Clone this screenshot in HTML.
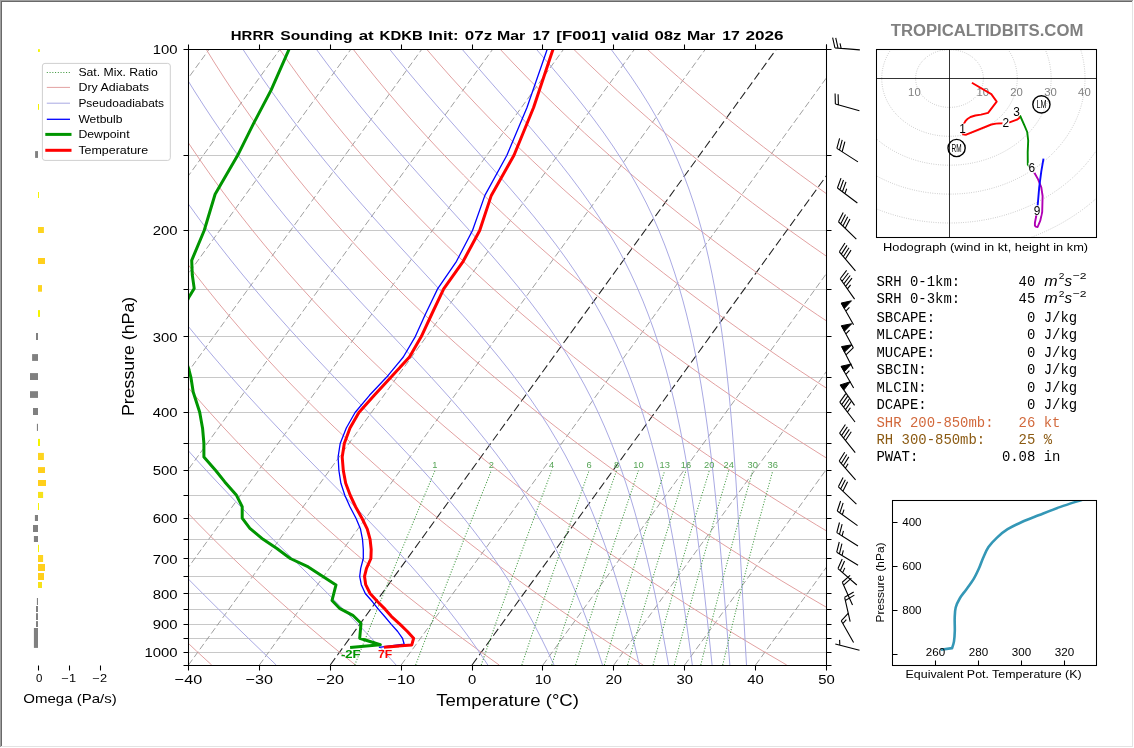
<!DOCTYPE html>
<html><head><meta charset="utf-8"><title>HRRR Sounding</title><style>html,body{margin:0;padding:0;background:#fff;}svg{display:block;}</style></head><body>
<svg width="1134" height="748" viewBox="0 0 1134 748" font-family="Liberation Sans, sans-serif">
<filter id="ga" filterUnits="userSpaceOnUse" x="0" y="0" width="1134" height="748" color-interpolation-filters="sRGB"><feOffset dx="0" dy="0"/></filter>
<rect width="1134" height="748" fill="#fff"/>
<g filter="url(#ga)">
<defs><clipPath id="cs"><rect x="188.5" y="49.5" width="638" height="616"/></clipPath>
<clipPath id="ch"><rect x="876.5" y="49.5" width="220" height="188"/></clipPath>
<clipPath id="ct"><rect x="892.5" y="500.5" width="204" height="165"/></clipPath></defs>
<g clip-path="url(#cs)" fill="none">
<path d="M188.5 49.5 H826.5" stroke="#c8c8c8" stroke-width="1"/>
<path d="M188.5 155.5 H826.5" stroke="#c8c8c8" stroke-width="1"/>
<path d="M188.5 230.5 H826.5" stroke="#c8c8c8" stroke-width="1"/>
<path d="M188.5 289.5 H826.5" stroke="#c8c8c8" stroke-width="1"/>
<path d="M188.5 336.5 H826.5" stroke="#c8c8c8" stroke-width="1"/>
<path d="M188.5 377.5 H826.5" stroke="#c8c8c8" stroke-width="1"/>
<path d="M188.5 412.5 H826.5" stroke="#c8c8c8" stroke-width="1"/>
<path d="M188.5 443.5 H826.5" stroke="#c8c8c8" stroke-width="1"/>
<path d="M188.5 470.5 H826.5" stroke="#c8c8c8" stroke-width="1"/>
<path d="M188.5 495.5 H826.5" stroke="#c8c8c8" stroke-width="1"/>
<path d="M188.5 518.5 H826.5" stroke="#c8c8c8" stroke-width="1"/>
<path d="M188.5 539.5 H826.5" stroke="#c8c8c8" stroke-width="1"/>
<path d="M188.5 558.5 H826.5" stroke="#c8c8c8" stroke-width="1"/>
<path d="M188.5 576.5 H826.5" stroke="#c8c8c8" stroke-width="1"/>
<path d="M188.5 593.5 H826.5" stroke="#c8c8c8" stroke-width="1"/>
<path d="M188.5 609.5 H826.5" stroke="#c8c8c8" stroke-width="1"/>
<path d="M188.5 624.5 H826.5" stroke="#c8c8c8" stroke-width="1"/>
<path d="M188.5 638.5 H826.5" stroke="#c8c8c8" stroke-width="1"/>
<path d="M188.5 652.5 H826.5" stroke="#c8c8c8" stroke-width="1"/>
<path d="M-662.17 665 L-216 49" stroke="#878787" stroke-width="0.8" stroke-dasharray="6.7 3"/>
<path d="M-591.28 665 L-145.11 49" stroke="#878787" stroke-width="0.8" stroke-dasharray="6.7 3"/>
<path d="M-520.39 665 L-74.22 49" stroke="#878787" stroke-width="0.8" stroke-dasharray="6.7 3"/>
<path d="M-449.5 665 L-3.33 49" stroke="#878787" stroke-width="0.8" stroke-dasharray="6.7 3"/>
<path d="M-378.61 665 L67.56 49" stroke="#878787" stroke-width="0.8" stroke-dasharray="6.7 3"/>
<path d="M-307.72 665 L138.45 49" stroke="#878787" stroke-width="0.8" stroke-dasharray="6.7 3"/>
<path d="M-236.83 665 L209.34 49" stroke="#878787" stroke-width="0.8" stroke-dasharray="6.7 3"/>
<path d="M-165.94 665 L280.22 49" stroke="#878787" stroke-width="0.8" stroke-dasharray="6.7 3"/>
<path d="M-95.06 665 L351.11 49" stroke="#878787" stroke-width="0.8" stroke-dasharray="6.7 3"/>
<path d="M-24.17 665 L422 49" stroke="#878787" stroke-width="0.8" stroke-dasharray="6.7 3"/>
<path d="M46.72 665 L492.89 49" stroke="#878787" stroke-width="0.8" stroke-dasharray="6.7 3"/>
<path d="M117.61 665 L563.78 49" stroke="#878787" stroke-width="0.8" stroke-dasharray="6.7 3"/>
<path d="M188.5 665 L634.67 49" stroke="#878787" stroke-width="0.8" stroke-dasharray="6.7 3"/>
<path d="M259.39 665 L705.56 49" stroke="#878787" stroke-width="0.8" stroke-dasharray="6.7 3"/>
<path d="M330.28 665 L776.45 49" stroke="#242424" stroke-width="1.08" stroke-dasharray="8.45 3.6"/>
<path d="M401.17 665 L847.34 49" stroke="#878787" stroke-width="0.8" stroke-dasharray="6.7 3"/>
<path d="M472.06 665 L918.22 49" stroke="#242424" stroke-width="1.08" stroke-dasharray="8.45 3.6"/>
<path d="M542.94 665 L989.11 49" stroke="#878787" stroke-width="0.8" stroke-dasharray="6.7 3"/>
<path d="M613.83 665 L1060 49" stroke="#878787" stroke-width="0.8" stroke-dasharray="6.7 3"/>
<path d="M684.72 665 L1130.89 49" stroke="#878787" stroke-width="0.8" stroke-dasharray="6.7 3"/>
<path d="M755.61 665 L1201.78 49" stroke="#878787" stroke-width="0.8" stroke-dasharray="6.7 3"/>
<path d="M826.5 665 L1272.67 49" stroke="#878787" stroke-width="0.8" stroke-dasharray="6.7 3"/>
<path d="M211.68 665 L196.45 651 L181.6 637 L167.14 623 L153.05 609 L139.32 595 L125.96 581 L112.95 567 L100.29 553 L87.98 539 L76 525 L64.36 511 L53.05 497 L42.07 483 L31.4 469 L21.06 455 L11.02 441 L1.28 427 L-8.15 413 L-17.29 399 L-26.13 385 L-34.69 371 L-42.97 357 L-50.96 343 L-58.69 329 L-66.14 315 L-73.32 301 L-80.25 287 L-86.91 273 L-93.32 259 L-99.48 245 L-105.39 231 L-111.06 217 L-116.49 203 L-121.69 189 L-126.65 175 L-131.39 161 L-135.9 147 L-140.18 133 L-144.25 119 L-148.11 105 L-151.75 91 L-155.18 77 L-158.41 63 L-161.44 49 M355.44 665 L338.04 651 L321.05 637 L304.48 623 L288.3 609 L272.53 595 L257.15 581 L242.16 567 L227.54 553 L213.3 539 L199.43 525 L185.92 511 L172.78 497 L159.98 483 L147.53 469 L135.42 455 L123.65 441 L112.21 427 L101.1 413 L90.31 399 L79.83 385 L69.67 371 L59.82 357 L50.27 343 L41.01 329 L32.05 315 L23.38 301 L14.99 287 L6.89 273 L-0.94 259 L-8.5 245 L-15.79 231 L-22.82 217 L-29.58 203 L-36.09 189 L-42.35 175 L-48.36 161 L-54.13 147 L-59.65 133 L-64.94 119 L-70 105 L-74.82 91 L-79.42 77 L-83.79 63 L-87.95 49 M499.21 665 L479.63 651 L460.5 637 L441.81 623 L423.56 609 L405.74 595 L388.34 581 L371.36 567 L354.79 553 L338.63 539 L322.86 525 L307.49 511 L292.5 497 L277.89 483 L263.65 469 L249.79 455 L236.29 441 L223.14 427 L210.35 413 L197.91 399 L185.8 385 L174.04 371 L162.6 357 L151.5 343 L140.71 329 L130.24 315 L120.08 301 L110.23 287 L100.68 273 L91.43 259 L82.48 245 L73.81 231 L65.43 217 L57.33 203 L49.5 189 L41.95 175 L34.66 161 L27.64 147 L20.87 133 L14.37 119 L8.11 105 L2.11 91 L-3.66 77 L-9.18 63 L-14.46 49 M642.97 665 L621.22 651 L599.94 637 L579.15 623 L558.82 609 L538.95 595 L519.54 581 L500.57 567 L482.05 553 L463.95 539 L446.29 525 L429.05 511 L412.22 497 L395.8 483 L379.78 469 L364.15 455 L348.92 441 L334.07 427 L319.6 413 L305.5 399 L291.77 385 L278.4 371 L265.39 357 L252.72 343 L240.41 329 L228.43 315 L216.78 301 L205.47 287 L194.48 273 L183.81 259 L173.46 245 L163.41 231 L153.67 217 L144.24 203 L135.09 189 L126.25 175 L117.68 161 L109.4 147 L101.4 133 L93.68 119 L86.22 105 L79.03 91 L72.11 77 L65.44 63 L59.02 49 M786.74 665 L762.81 651 L739.39 637 L716.48 623 L694.08 609 L672.16 595 L650.73 581 L629.78 567 L609.3 553 L589.28 539 L569.72 525 L550.61 511 L531.94 497 L513.7 483 L495.9 469 L478.52 455 L461.56 441 L445 427 L428.85 413 L413.1 399 L397.74 385 L382.77 371 L368.17 357 L353.95 343 L340.1 329 L326.62 315 L313.49 301 L300.71 287 L288.28 273 L276.19 259 L264.44 245 L253.01 231 L241.92 217 L231.15 203 L220.69 189 L210.54 175 L200.71 161 L191.17 147 L181.93 133 L172.99 119 L164.33 105 L155.96 91 L147.87 77 L140.05 63 L132.51 49 M930.5 665 L904.4 651 L878.84 637 L853.82 623 L829.33 609 L805.37 595 L781.92 581 L758.99 567 L736.55 553 L714.61 539 L693.15 525 L672.17 511 L651.66 497 L631.61 483 L612.03 469 L592.89 455 L574.19 441 L555.93 427 L538.1 413 L520.7 399 L503.71 385 L487.13 371 L470.96 357 L455.18 343 L439.8 329 L424.8 315 L410.19 301 L395.95 287 L382.08 273 L368.57 259 L355.42 245 L342.62 231 L330.17 217 L318.06 203 L306.28 189 L294.84 175 L283.73 161 L272.94 147 L262.46 133 L252.3 119 L242.44 105 L232.89 91 L223.63 77 L214.67 63 L206 49 M1074.27 665 L1045.99 651 L1018.28 637 L991.16 623 L964.59 609 L938.58 595 L913.12 581 L888.19 567 L863.8 553 L839.93 539 L816.58 525 L793.73 511 L771.38 497 L749.52 483 L728.15 469 L707.25 455 L686.83 441 L666.86 427 L647.36 413 L628.3 399 L609.68 385 L591.5 371 L573.75 357 L556.41 343 L539.5 329 L522.99 315 L506.89 301 L491.19 287 L475.87 273 L460.94 259 L446.39 245 L432.22 231 L418.41 217 L404.97 203 L391.88 189 L379.14 175 L366.75 161 L354.7 147 L342.99 133 L331.61 119 L320.55 105 L309.81 91 L299.39 77 L289.29 63 L279.48 49 M1218.04 665 L1187.58 651 L1157.73 637 L1128.49 623 L1099.85 609 L1071.79 595 L1044.31 581 L1017.4 567 L991.05 553 L965.26 539 L940.01 525 L915.29 511 L891.1 497 L867.43 483 L844.27 469 L821.62 455 L799.46 441 L777.79 427 L756.61 413 L735.89 399 L715.65 385 L695.86 371 L676.53 357 L657.64 343 L639.2 329 L621.18 315 L603.59 301 L586.42 287 L569.67 273 L553.32 259 L537.37 245 L521.82 231 L506.66 217 L491.88 203 L477.47 189 L463.44 175 L449.78 161 L436.47 147 L423.52 133 L410.92 119 L398.66 105 L386.74 91 L375.16 77 L363.9 63 L352.97 49 M1361.8 665 L1329.17 651 L1297.18 637 L1265.83 623 L1235.1 609 L1205 595 L1175.51 581 L1146.61 567 L1118.31 553 L1090.58 539 L1063.43 525 L1036.85 511 L1010.82 497 L985.34 483 L960.4 469 L935.99 455 L912.1 441 L888.72 427 L865.86 413 L843.49 399 L821.62 385 L800.23 371 L779.32 357 L758.87 343 L738.89 329 L719.37 315 L700.3 301 L681.66 287 L663.47 273 L645.7 259 L628.35 245 L611.42 231 L594.9 217 L578.79 203 L563.07 189 L547.74 175 L532.8 161 L518.24 147 L504.05 133 L490.23 119 L476.77 105 L463.67 91 L450.92 77 L438.52 63 L426.46 49 M1505.57 665 L1470.76 651 L1436.62 637 L1403.16 623 L1370.36 609 L1338.21 595 L1306.7 581 L1275.82 567 L1245.56 553 L1215.91 539 L1186.86 525 L1158.41 511 L1130.54 497 L1103.25 483 L1076.52 469 L1050.35 455 L1024.73 441 L999.66 427 L975.11 413 L951.09 399 L927.59 385 L904.59 371 L882.1 357 L860.1 343 L838.59 329 L817.56 315 L797 301 L776.9 287 L757.26 273 L738.08 259 L719.33 245 L701.02 231 L683.15 217 L665.7 203 L648.66 189 L632.04 175 L615.82 161 L600 147 L584.58 133 L569.54 119 L554.88 105 L540.6 91 L526.68 77 L513.13 63 L499.94 49 M1649.33 665 L1612.35 651 L1576.07 637 L1540.5 623 L1505.62 609 L1471.42 595 L1437.89 581 L1405.03 567 L1372.81 553 L1341.24 539 L1310.29 525 L1279.97 511 L1250.26 497 L1221.16 483 L1192.65 469 L1164.72 455 L1137.37 441 L1110.59 427 L1084.36 413 L1058.69 399 L1033.56 385 L1008.96 371 L984.89 357 L961.33 343 L938.29 329 L915.75 315 L893.7 301 L872.14 287 L851.06 273 L830.45 259 L810.31 245 L790.63 231 L771.39 217 L752.61 203 L734.26 189 L716.34 175 L698.84 161 L681.77 147 L665.1 133 L648.85 119 L632.99 105 L617.52 91 L602.45 77 L587.75 63 L573.43 49 M1793.1 665 L1753.94 651 L1715.52 637 L1677.84 623 L1640.88 609 L1604.63 595 L1569.09 581 L1534.23 567 L1500.06 553 L1466.56 539 L1433.72 525 L1401.53 511 L1369.98 497 L1339.07 483 L1308.77 469 L1279.09 455 L1250 441 L1221.52 427 L1193.61 413 L1166.29 399 L1139.53 385 L1113.32 371 L1087.67 357 L1062.56 343 L1037.99 329 L1013.94 315 L990.4 301 L967.38 287 L944.86 273 L922.83 259 L901.29 245 L880.23 231 L859.64 217 L839.52 203 L819.85 189 L800.64 175 L781.87 161 L763.53 147 L745.63 133 L728.16 119 L711.1 105 L694.45 91 L678.21 77 L662.37 63 L646.92 49" stroke="#e09c9c" stroke-width="0.95"/>
<path d="M-579.04 665 L-582.3 651 L-585.35 637 L-588.21 623 L-590.87 609 L-593.33 595 L-595.61 581 L-597.7 567 L-599.6 553 L-601.32 539 L-602.86 525 L-604.22 511 L-605.41 497 L-606.43 483 L-607.28 469 L-607.96 455 L-608.48 441 L-608.84 427 L-609.04 413 L-609.08 399 L-608.97 385 L-608.7 371 L-608.29 357 L-607.73 343 L-607.02 329 L-606.17 315 L-605.19 301 L-604.06 287 L-602.79 273 L-601.4 259 L-599.86 245 L-598.2 231 L-596.41 217 L-594.5 203 L-592.46 189 L-590.3 175 L-588.01 161 L-585.61 147 L-583.09 133 L-580.46 119 L-577.71 105 L-574.85 91 L-571.88 77 L-568.8 63 L-565.61 49 M-435.27 665 L-440.71 651 L-445.9 637 L-450.87 623 L-455.61 609 L-460.12 595 L-464.41 581 L-468.49 567 L-472.35 553 L-475.99 539 L-479.43 525 L-482.66 511 L-485.69 497 L-488.52 483 L-491.15 469 L-493.59 455 L-495.84 441 L-497.91 427 L-499.78 413 L-501.48 399 L-503 385 L-504.34 371 L-505.5 357 L-506.5 343 L-507.32 329 L-507.99 315 L-508.48 301 L-508.82 287 L-509 273 L-509.02 259 L-508.89 245 L-508.6 231 L-508.17 217 L-507.59 203 L-506.86 189 L-506 175 L-504.99 161 L-503.84 147 L-502.56 133 L-501.15 119 L-499.6 105 L-497.92 91 L-496.11 77 L-494.18 63 L-492.13 49 M-291.5 665 L-299.12 651 L-306.46 637 L-313.54 623 L-320.35 609 L-326.91 595 L-333.22 581 L-339.28 567 L-345.09 553 L-350.67 539 L-356 525 L-361.1 511 L-365.97 497 L-370.61 483 L-375.03 469 L-379.23 455 L-383.21 441 L-386.98 427 L-390.53 413 L-393.88 399 L-397.03 385 L-399.97 371 L-402.72 357 L-405.27 343 L-407.63 329 L-409.8 315 L-411.78 301 L-413.58 287 L-415.2 273 L-416.64 259 L-417.91 245 L-419 231 L-419.92 217 L-420.68 203 L-421.27 189 L-421.7 175 L-421.97 161 L-422.08 147 L-422.03 133 L-421.84 119 L-421.49 105 L-420.99 91 L-420.35 77 L-419.57 63 L-418.64 49 M-147.74 665 L-157.53 651 L-167.01 637 L-176.2 623 L-185.1 609 L-193.7 595 L-202.03 581 L-210.07 567 L-217.84 553 L-225.34 539 L-232.57 525 L-239.54 511 L-246.25 497 L-252.7 483 L-258.91 469 L-264.86 455 L-270.57 441 L-276.05 427 L-281.28 413 L-286.28 399 L-291.06 385 L-295.61 371 L-299.93 357 L-304.04 343 L-307.93 329 L-311.61 315 L-315.08 301 L-318.34 287 L-321.4 273 L-324.26 259 L-326.93 245 L-329.4 231 L-331.68 217 L-333.77 203 L-335.68 189 L-337.4 175 L-338.94 161 L-340.31 147 L-341.5 133 L-342.53 119 L-343.38 105 L-344.07 91 L-344.59 77 L-344.95 63 L-345.15 49 M-4.06 665 L-16 651 L-27.61 637 L-38.89 623 L-49.86 609 L-60.51 595 L-70.84 581 L-80.87 567 L-90.59 553 L-100.02 539 L-109.14 525 L-117.98 511 L-126.53 497 L-134.79 483 L-142.78 469 L-150.49 455 L-157.94 441 L-165.11 427 L-172.03 413 L-178.69 399 L-185.09 385 L-191.24 371 L-197.15 357 L-202.81 343 L-208.23 329 L-213.42 315 L-218.38 301 L-223.1 287 L-227.61 273 L-231.89 259 L-235.95 245 L-239.8 231 L-243.43 217 L-246.86 203 L-250.08 189 L-253.1 175 L-255.92 161 L-258.54 147 L-260.98 133 L-263.22 119 L-265.27 105 L-267.14 91 L-268.83 77 L-270.33 63 L-271.67 49 M138.74 665 L124.9 651 L111.34 637 L98.09 623 L85.15 609 L72.53 595 L60.23 581 L48.26 567 L36.6 553 L25.27 539 L14.26 525 L3.57 511 L-6.82 497 L-16.89 483 L-26.66 469 L-36.13 455 L-45.3 441 L-54.19 427 L-62.78 413 L-71.09 399 L-79.12 385 L-86.88 371 L-94.36 357 L-101.58 343 L-108.53 329 L-115.23 315 L-121.67 301 L-127.86 287 L-133.81 273 L-139.51 259 L-144.97 245 L-150.19 231 L-155.19 217 L-159.95 203 L-164.49 189 L-168.8 175 L-172.9 161 L-176.78 147 L-180.45 133 L-183.91 119 L-187.16 105 L-190.21 91 L-193.06 77 L-195.72 63 L-198.18 49 M276.18 665 L261.62 651 L247.08 637 L232.64 623 L218.33 609 L204.21 595 L190.31 581 L176.65 567 L163.28 553 L150.19 539 L137.4 525 L124.92 511 L112.76 497 L100.92 483 L89.4 469 L78.19 455 L67.3 441 L56.73 427 L46.46 413 L36.5 399 L26.84 385 L17.49 371 L8.42 357 L-0.35 343 L-8.84 329 L-17.04 315 L-24.97 301 L-32.63 287 L-40.01 273 L-47.13 259 L-53.99 245 L-60.59 231 L-66.94 217 L-73.04 203 L-78.89 189 L-84.5 175 L-89.87 161 L-95.01 147 L-99.92 133 L-104.6 119 L-109.05 105 L-113.28 91 L-117.3 77 L-121.1 63 L-124.69 49 M396.1 665 L383.41 651 L370.31 637 L356.87 623 L343.15 609 L329.21 595 L315.12 581 L300.97 567 L286.82 553 L272.73 539 L258.77 525 L244.97 511 L231.39 497 L218.04 483 L204.96 469 L192.16 455 L179.66 441 L167.46 427 L155.58 413 L144.01 399 L132.75 385 L121.81 371 L111.18 357 L100.86 343 L90.85 329 L81.14 315 L71.73 301 L62.61 287 L53.78 273 L45.24 259 L36.99 245 L29.01 231 L21.31 217 L13.87 203 L6.7 189 L-0.2 175 L-6.85 161 L-13.25 147 L-19.39 133 L-25.29 119 L-30.94 105 L-36.36 91 L-41.54 77 L-46.49 63 L-51.21 49 M487.86 665 L478.52 651 L468.69 637 L458.35 623 L447.5 609 L436.13 595 L424.28 581 L411.96 567 L399.23 553 L386.14 539 L372.76 525 L359.16 511 L345.43 497 L331.63 483 L317.84 469 L304.11 455 L290.52 441 L277.11 427 L263.9 413 L250.95 399 L238.26 385 L225.85 371 L213.74 357 L201.94 343 L190.44 329 L179.26 315 L168.38 301 L157.82 287 L147.56 273 L137.61 259 L127.96 245 L118.61 231 L109.55 217 L100.78 203 L92.3 189 L84.09 175 L76.17 161 L68.52 147 L61.14 133 L54.02 119 L47.17 105 L40.57 91 L34.23 77 L28.13 63 L22.28 49 M554.01 665 L547.5 651 L540.63 637 L533.36 623 L525.67 609 L517.53 595 L508.92 581 L499.8 567 L490.15 553 L479.98 539 L469.27 525 L458.05 511 L446.32 497 L434.14 483 L421.56 469 L408.65 455 L395.47 441 L382.11 427 L368.65 413 L355.16 399 L341.71 385 L328.37 371 L315.19 357 L302.21 343 L289.46 329 L276.97 315 L264.75 301 L252.83 287 L241.2 273 L229.88 259 L218.87 245 L208.16 231 L197.76 217 L187.67 203 L177.88 189 L168.39 175 L159.19 161 L150.28 147 L141.67 133 L133.33 119 L125.28 105 L117.5 91 L109.99 77 L102.75 63 L95.77 49 M602.49 665 L597.88 651 L593.04 637 L587.96 623 L582.59 609 L576.92 595 L570.92 581 L564.56 567 L557.8 553 L550.62 539 L542.98 525 L534.85 511 L526.21 497 L517.03 483 L507.3 469 L497.03 455 L486.21 441 L474.88 427 L463.07 413 L450.84 399 L438.26 385 L425.4 371 L412.34 357 L399.17 343 L385.97 329 L372.8 315 L359.74 301 L346.83 287 L334.12 273 L321.63 259 L309.41 245 L297.46 231 L285.8 217 L274.44 203 L263.38 189 L252.62 175 L242.17 161 L232.02 147 L222.18 133 L212.63 119 L203.38 105 L194.42 91 L185.75 77 L177.36 63 L169.25 49 M639.4 665 L636.05 651 L632.56 637 L628.91 623 L625.1 609 L621.09 595 L616.88 581 L612.43 567 L607.72 553 L602.73 539 L597.42 525 L591.78 511 L585.75 497 L579.32 483 L572.45 469 L565.11 455 L557.26 441 L548.88 427 L539.95 413 L530.46 399 L520.4 385 L509.79 371 L498.66 357 L487.04 343 L475 329 L462.62 315 L449.97 301 L437.14 287 L424.22 273 L411.27 259 L398.39 245 L385.62 231 L373.01 217 L360.62 203 L348.46 189 L336.57 175 L324.95 161 L313.63 147 L302.6 133 L291.87 119 L281.44 105 L271.32 91 L261.49 77 L251.96 63 L242.73 49 M668.56 665 L666.06 651 L663.48 637 L660.81 623 L658.04 609 L655.15 595 L652.13 581 L648.96 567 L645.64 553 L642.13 539 L638.42 525 L634.49 511 L630.31 497 L625.85 483 L621.1 469 L616.02 455 L610.57 441 L604.73 427 L598.45 413 L591.72 399 L584.49 385 L576.72 371 L568.41 357 L559.52 343 L550.06 329 L540.02 315 L529.42 301 L518.3 287 L506.72 273 L494.75 259 L482.46 245 L469.95 231 L457.3 217 L444.59 203 L431.91 189 L419.31 175 L406.87 161 L394.61 147 L382.58 133 L370.8 119 L359.29 105 L348.07 91 L337.14 77 L326.5 63 L316.17 49 M692.3 665 L690.4 651 L688.46 637 L686.47 623 L684.42 609 L682.31 595 L680.11 581 L677.83 567 L675.45 553 L672.96 539 L670.34 525 L667.57 511 L664.65 497 L661.55 483 L658.25 469 L654.74 455 L650.98 441 L646.95 427 L642.63 413 L637.99 399 L632.98 385 L627.59 371 L621.77 357 L615.48 343 L608.71 329 L601.4 315 L593.53 301 L585.09 287 L576.05 273 L566.42 259 L556.22 245 L545.48 231 L534.24 217 L522.58 203 L510.59 189 L498.34 175 L485.93 161 L473.44 147 L460.97 133 L448.57 119 L436.3 105 L424.22 91 L412.36 77 L400.75 63 L389.4 49 M712.09 665 L710.63 651 L709.16 637 L707.66 623 L706.14 609 L704.58 595 L702.98 581 L701.32 567 L699.61 553 L697.84 539 L695.98 525 L694.03 511 L691.99 497 L689.83 483 L687.54 469 L685.11 455 L682.52 441 L679.75 427 L676.79 413 L673.6 399 L670.18 385 L666.48 371 L662.49 357 L658.18 343 L653.5 329 L648.43 315 L642.94 301 L636.97 287 L630.51 273 L623.5 259 L615.94 245 L607.78 231 L599.02 217 L589.65 203 L579.7 189 L569.19 175 L558.18 161 L546.74 147 L534.95 133 L522.9 119 L510.69 105 L498.41 91 L486.13 77 L473.94 63 L461.88 49 M729.85 665 L728.74 651 L727.63 637 L726.52 623 L725.41 609 L724.28 595 L723.14 581 L721.98 567 L720.78 553 L719.55 539 L718.28 525 L716.96 511 L715.57 497 L714.12 483 L712.59 469 L710.97 455 L709.24 441 L707.41 427 L705.45 413 L703.34 399 L701.08 385 L698.64 371 L696 357 L693.14 343 L690.04 329 L686.68 315 L683.01 301 L679.02 287 L674.68 273 L669.93 259 L664.76 245 L659.11 231 L652.96 217 L646.27 203 L639 189 L631.14 175 L622.66 161 L613.56 147 L603.86 133 L593.59 119 L582.81 105 L571.59 91 L560.01 77 L548.16 63 L536.15 49 M746.51 665 L745.69 651 L744.89 637 L744.11 623 L743.33 609 L742.56 595 L741.8 581 L741.03 567 L740.25 553 L739.46 539 L738.66 525 L737.83 511 L736.97 497 L736.08 483 L735.14 469 L734.15 455 L733.11 441 L731.99 427 L730.8 413 L729.53 399 L728.15 385 L726.66 371 L725.05 357 L723.3 343 L721.39 329 L719.31 315 L717.04 301 L714.55 287 L711.83 273 L708.84 259 L705.57 245 L701.97 231 L698.02 217 L693.68 203 L688.91 189 L683.68 175 L677.94 161 L671.67 147 L664.81 133 L657.35 119 L649.27 105 L640.56 91 L631.22 77 L621.3 63 L610.85 49" stroke="#a4a4e2" stroke-width="0.95"/>
<path d="M354.76 665 L359.89 652.22 L365.3 638.78 L371.03 624.62 L377.12 609.64 L383.61 593.76 L390.55 576.85 L398.01 558.78 L406.06 539.36 L414.82 518.4 L424.39 495.6 L434.95 470.63 M415.67 665 L420.48 652.22 L425.56 638.78 L430.95 624.62 L436.67 609.64 L442.77 593.76 L449.31 576.85 L456.35 558.78 L463.95 539.36 L472.22 518.4 L481.28 495.6 L491.28 470.63 M481.21 665 L485.67 652.22 L490.38 638.78 L495.38 624.62 L500.69 609.64 L506.37 593.76 L512.46 576.85 L519.02 558.78 L526.12 539.36 L533.85 518.4 L542.33 495.6 L551.71 470.63 M521.86 665 L526.08 652.22 L530.56 638.78 L535.31 624.62 L540.37 609.64 L545.78 593.76 L551.58 576.85 L557.83 558.78 L564.61 539.36 L572 518.4 L580.11 495.6 L589.09 470.63 M551.77 665 L555.83 652.22 L560.13 638.78 L564.69 624.62 L569.55 609.64 L574.76 593.76 L580.34 576.85 L586.37 558.78 L592.91 539.36 L600.04 518.4 L607.88 495.6 L616.56 470.63 M575.6 665 L579.52 652.22 L583.67 638.78 L588.09 624.62 L592.79 609.64 L597.83 593.76 L603.25 576.85 L609.09 558.78 L615.43 539.36 L622.36 518.4 L629.98 495.6 L638.42 470.63 M604.32 665 L608.07 652.22 L612.05 638.78 L616.28 624.62 L620.8 609.64 L625.63 593.76 L630.83 576.85 L636.45 558.78 L642.56 539.36 L649.23 518.4 L656.58 495.6 L664.73 470.63 M627.59 665 L631.2 652.22 L635.03 638.78 L639.11 624.62 L643.47 609.64 L648.14 593.76 L653.17 576.85 L658.6 558.78 L664.52 539.36 L670.98 518.4 L678.1 495.6 L686.01 470.63 M653.11 665 L656.57 652.22 L660.24 638.78 L664.15 624.62 L668.33 609.64 L672.82 593.76 L677.65 576.85 L682.89 558.78 L688.58 539.36 L694.81 518.4 L701.69 495.6 L709.33 470.63 M674.34 665 L677.67 652.22 L681.21 638.78 L684.98 624.62 L689.02 609.64 L693.35 593.76 L698.02 576.85 L703.08 558.78 L708.59 539.36 L714.63 518.4 L721.3 495.6 L728.72 470.63 M700.78 665 L703.95 652.22 L707.31 638.78 L710.91 624.62 L714.76 609.64 L718.89 593.76 L723.36 576.85 L728.2 558.78 L733.48 539.36 L739.28 518.4 L745.68 495.6 L752.82 470.63 M722.72 665 L725.75 652.22 L728.97 638.78 L732.42 624.62 L736.11 609.64 L740.08 593.76 L744.38 576.85 L749.04 558.78 L754.13 539.36 L759.72 518.4 L765.9 495.6 L772.81 470.63" stroke="#3f983f" stroke-width="1.04" stroke-dasharray="1.04 1.71"/>
</g>
<text x="434.95" y="468.4" font-size="8.3" fill="#55a455" text-anchor="middle" textLength="5.2" lengthAdjust="spacingAndGlyphs">1</text>
<text x="491.28" y="468.4" font-size="8.3" fill="#55a455" text-anchor="middle" textLength="5.2" lengthAdjust="spacingAndGlyphs">2</text>
<text x="551.71" y="468.4" font-size="8.3" fill="#55a455" text-anchor="middle" textLength="5.2" lengthAdjust="spacingAndGlyphs">4</text>
<text x="589.09" y="468.4" font-size="8.3" fill="#55a455" text-anchor="middle" textLength="5.2" lengthAdjust="spacingAndGlyphs">6</text>
<text x="616.56" y="468.4" font-size="8.3" fill="#55a455" text-anchor="middle" textLength="5.2" lengthAdjust="spacingAndGlyphs">8</text>
<text x="638.42" y="468.4" font-size="8.3" fill="#55a455" text-anchor="middle" textLength="10.4" lengthAdjust="spacingAndGlyphs">10</text>
<text x="664.73" y="468.4" font-size="8.3" fill="#55a455" text-anchor="middle" textLength="10.4" lengthAdjust="spacingAndGlyphs">13</text>
<text x="686.01" y="468.4" font-size="8.3" fill="#55a455" text-anchor="middle" textLength="10.4" lengthAdjust="spacingAndGlyphs">16</text>
<text x="709.33" y="468.4" font-size="8.3" fill="#55a455" text-anchor="middle" textLength="10.4" lengthAdjust="spacingAndGlyphs">20</text>
<text x="728.72" y="468.4" font-size="8.3" fill="#55a455" text-anchor="middle" textLength="10.4" lengthAdjust="spacingAndGlyphs">24</text>
<text x="752.82" y="468.4" font-size="8.3" fill="#55a455" text-anchor="middle" textLength="10.4" lengthAdjust="spacingAndGlyphs">30</text>
<text x="772.81" y="468.4" font-size="8.3" fill="#55a455" text-anchor="middle" textLength="10.4" lengthAdjust="spacingAndGlyphs">36</text>
<g clip-path="url(#cs)" fill="none" stroke-linejoin="round">
<path d="M547.3 49 L527 107.5 L506.9 155.2 L484.9 195.4 L472.5 230.5 L456.5 261.3 L437.6 288.9 L425.5 314 L415.3 336.6 L403.3 357 L386.5 377.3 L369.5 395.3 L355.1 412.5 L346.3 428 L340.2 443.4 L338.1 457 L338.9 470.5 L340.9 483.3 L344.9 495.5 L350.1 507 L356.1 518.5 L360.5 529.1 L362.5 539.3 L363.3 549.5 L363.3 558.5 L360.7 568.3 L359.7 576.3 L361.3 584.7 L365.3 593.5 L372.5 601.8 L378.5 609.4 L384.5 616.3 L391.3 624.4 L397.7 631.5 L402.5 638.3 L404.2 644.2 L378.9 647.4" stroke="#0000ff" stroke-width="1.3"/>
<path d="M553.1 49 L533.6 107.5 L514 155.2 L491.3 195.4 L479.7 230.5 L463.2 261.3 L443.7 288.9 L431.8 314 L421.3 336.6 L409.5 357 L390.9 377.3 L374.3 395.3 L358.9 412.5 L350 428 L344.3 443.4 L342.2 457 L343.3 470.5 L345.7 483.3 L350.3 495.5 L355.7 507 L362.1 518.5 L367.3 529.1 L370.1 539.3 L371.2 549.5 L370.9 558.5 L366.5 568.3 L364.5 576.3 L365.7 584.7 L370.1 593.5 L377.7 601.8 L385.3 609.4 L391.3 616.3 L400.1 624.4 L407.4 631.5 L413.6 638.3 L411.8 644.9 L383.9 647.2" stroke="#ff0000" stroke-width="3"/>
<path d="M289.1 49.2 L271.1 90.1 L253.5 123.6 L237.7 155.3 L215.1 194.3 L204.2 230.5 L191.7 260.3 L192.3 275 L194.2 288.4 L188.7 297.6 L183 310 L181.5 348 L188.7 368.8 L190.9 377.3 L193.2 392 L199.7 412.3 L202.6 428.5 L203.9 443.5 L203.9 456.9 L215.9 470.7 L224.8 481.9 L236.5 495.3 L242.2 506.7 L242.2 518.1 L249.9 528.4 L263.1 539.3 L276.9 548.5 L290.3 558.5 L308.3 566.9 L322.9 576.4 L336 584.9 L332 600.5 L340 608.7 L352.8 615.3 L361 623.3 L359.7 638.3 L380.3 644.7 L350.1 647.4" stroke="#009500" stroke-width="3"/>
</g>
<text x="341" y="657.6" font-size="10.6" font-weight="bold" fill="#009500" textLength="19.6" lengthAdjust="spacingAndGlyphs">-2F</text>
<text x="378" y="657.6" font-size="10.6" font-weight="bold" fill="#ff0000" textLength="14.2" lengthAdjust="spacingAndGlyphs">7F</text>
<g stroke="#000" stroke-width="1.05" fill="none">
<path d="M188.5 49 V665.5 H826.5 M188.5 49.5 H826.5"/>
<path d="M188.5 49.5 h-5 M188.5 155.5 h-5 M188.5 230.5 h-5 M188.5 289.5 h-5 M188.5 336.5 h-5 M188.5 377.5 h-5 M188.5 412.5 h-5 M188.5 443.5 h-5 M188.5 470.5 h-5 M188.5 495.5 h-5 M188.5 518.5 h-5 M188.5 539.5 h-5 M188.5 558.5 h-5 M188.5 576.5 h-5 M188.5 593.5 h-5 M188.5 609.5 h-5 M188.5 624.5 h-5 M188.5 638.5 h-5 M188.5 652.5 h-5 M188.5 665.5 h-5 M188.5 665.5 v5 M188.5 49.5 v-5 M259.5 665.5 v5 M259.5 49.5 v-5 M330.5 665.5 v5 M330.5 49.5 v-5 M401.5 665.5 v5 M401.5 49.5 v-5 M472.5 665.5 v5 M472.5 49.5 v-5 M542.5 665.5 v5 M542.5 49.5 v-5 M613.5 665.5 v5 M613.5 49.5 v-5 M684.5 665.5 v5 M684.5 49.5 v-5 M755.5 665.5 v5 M755.5 49.5 v-5 M826.5 665.5 v5 M826.5 49.5 v-5"/>
</g>
<text x="177.6" y="53.8" font-size="13.6" text-anchor="end" textLength="24.81" lengthAdjust="spacingAndGlyphs">100</text>
<text x="177.6" y="235.39" font-size="13.6" text-anchor="end" textLength="24.81" lengthAdjust="spacingAndGlyphs">200</text>
<text x="177.6" y="341.61" font-size="13.6" text-anchor="end" textLength="24.81" lengthAdjust="spacingAndGlyphs">300</text>
<text x="177.6" y="416.97" font-size="13.6" text-anchor="end" textLength="24.81" lengthAdjust="spacingAndGlyphs">400</text>
<text x="177.6" y="475.43" font-size="13.6" text-anchor="end" textLength="24.81" lengthAdjust="spacingAndGlyphs">500</text>
<text x="177.6" y="523.2" font-size="13.6" text-anchor="end" textLength="24.81" lengthAdjust="spacingAndGlyphs">600</text>
<text x="177.6" y="563.58" font-size="13.6" text-anchor="end" textLength="24.81" lengthAdjust="spacingAndGlyphs">700</text>
<text x="177.6" y="598.56" font-size="13.6" text-anchor="end" textLength="24.81" lengthAdjust="spacingAndGlyphs">800</text>
<text x="177.6" y="629.42" font-size="13.6" text-anchor="end" textLength="24.81" lengthAdjust="spacingAndGlyphs">900</text>
<text x="177.6" y="657.02" font-size="13.6" text-anchor="end" textLength="33.08" lengthAdjust="spacingAndGlyphs">1000</text>
<text x="188.5" y="684.2" font-size="13.6" text-anchor="middle" textLength="27.44" lengthAdjust="spacingAndGlyphs">−40</text>
<text x="259.39" y="684.2" font-size="13.6" text-anchor="middle" textLength="27.44" lengthAdjust="spacingAndGlyphs">−30</text>
<text x="330.28" y="684.2" font-size="13.6" text-anchor="middle" textLength="27.44" lengthAdjust="spacingAndGlyphs">−20</text>
<text x="401.17" y="684.2" font-size="13.6" text-anchor="middle" textLength="27.44" lengthAdjust="spacingAndGlyphs">−10</text>
<text x="472.06" y="684.2" font-size="13.6" text-anchor="middle" textLength="8.27" lengthAdjust="spacingAndGlyphs">0</text>
<text x="542.94" y="684.2" font-size="13.6" text-anchor="middle" textLength="16.54" lengthAdjust="spacingAndGlyphs">10</text>
<text x="613.83" y="684.2" font-size="13.6" text-anchor="middle" textLength="16.54" lengthAdjust="spacingAndGlyphs">20</text>
<text x="684.72" y="684.2" font-size="13.6" text-anchor="middle" textLength="16.54" lengthAdjust="spacingAndGlyphs">30</text>
<text x="755.61" y="684.2" font-size="13.6" text-anchor="middle" textLength="16.54" lengthAdjust="spacingAndGlyphs">40</text>
<text x="826.5" y="684.2" font-size="13.6" text-anchor="middle" textLength="16.54" lengthAdjust="spacingAndGlyphs">50</text>
<text x="507.6" y="706.3" font-size="15.8" text-anchor="middle" textLength="142.8" lengthAdjust="spacingAndGlyphs">Temperature (°C)</text>
<text transform="translate(133.6 356.4) rotate(-90)" font-size="15.8" text-anchor="middle" textLength="119.2" lengthAdjust="spacingAndGlyphs">Pressure (hPa)</text>
<text x="230.8" y="39.7" font-size="13.6" font-weight="bold" textLength="43.2" lengthAdjust="spacingAndGlyphs">HRRR</text>
<text x="280.2" y="39.7" font-size="13.6" font-weight="bold" textLength="72.3" lengthAdjust="spacingAndGlyphs">Sounding</text>
<text x="358.7" y="39.7" font-size="13.6" font-weight="bold" textLength="15" lengthAdjust="spacingAndGlyphs">at</text>
<text x="379.6" y="39.7" font-size="13.6" font-weight="bold" textLength="43.2" lengthAdjust="spacingAndGlyphs">KDKB</text>
<text x="428.2" y="39.7" font-size="13.6" font-weight="bold" textLength="30.4" lengthAdjust="spacingAndGlyphs">Init:</text>
<text x="464.8" y="39.7" font-size="13.6" font-weight="bold" textLength="27.4" lengthAdjust="spacingAndGlyphs">07z</text>
<text x="497" y="39.7" font-size="13.6" font-weight="bold" textLength="28.3" lengthAdjust="spacingAndGlyphs">Mar</text>
<text x="532.4" y="39.7" font-size="13.6" font-weight="bold" textLength="17.6" lengthAdjust="spacingAndGlyphs">17</text>
<text x="556.3" y="39.7" font-size="13.6" font-weight="bold" textLength="49.7" lengthAdjust="spacingAndGlyphs">[F001]</text>
<text x="611.5" y="39.7" font-size="13.6" font-weight="bold" textLength="37.4" lengthAdjust="spacingAndGlyphs">valid</text>
<text x="654.4" y="39.7" font-size="13.6" font-weight="bold" textLength="27" lengthAdjust="spacingAndGlyphs">08z</text>
<text x="686.9" y="39.7" font-size="13.6" font-weight="bold" textLength="28.3" lengthAdjust="spacingAndGlyphs">Mar</text>
<text x="722.3" y="39.7" font-size="13.6" font-weight="bold" textLength="17.6" lengthAdjust="spacingAndGlyphs">17</text>
<text x="745.4" y="39.7" font-size="13.6" font-weight="bold" textLength="38.2" lengthAdjust="spacingAndGlyphs">2026</text>
<rect x="38" y="49.2" width="1.9" height="2.7" fill="#f4f400"/>
<rect x="38" y="104" width="1" height="5.8" fill="#f4f400"/>
<rect x="35.1" y="151.1" width="2.9" height="6.8" fill="#808080"/>
<rect x="38" y="192" width="1" height="6" fill="#f4f400"/>
<rect x="38" y="227" width="5.9" height="6" fill="#fdd41f"/>
<rect x="38" y="258" width="7" height="6" fill="#ffcf1c"/>
<rect x="38" y="285.1" width="4" height="6.6" fill="#fdd41f"/>
<rect x="38" y="310.1" width="2" height="6.8" fill="#f4f400"/>
<rect x="36" y="333" width="2" height="7" fill="#808080"/>
<rect x="32.1" y="354.1" width="5.9" height="6.8" fill="#808080"/>
<rect x="30" y="373.1" width="8" height="6.9" fill="#808080"/>
<rect x="30" y="391.2" width="8" height="6.7" fill="#808080"/>
<rect x="33" y="408" width="5" height="7" fill="#808080"/>
<rect x="36.9" y="423.8" width="1.1" height="7.1" fill="#808080"/>
<rect x="38" y="438.9" width="2" height="7.1" fill="#f4f400"/>
<rect x="38" y="452.9" width="5.9" height="7.1" fill="#fdd41f"/>
<rect x="38" y="467.1" width="7" height="5.9" fill="#ffcf1c"/>
<rect x="38" y="480" width="8" height="6" fill="#ffcf1c"/>
<rect x="38" y="491.9" width="5.1" height="6.1" fill="#f6e21a"/>
<rect x="38" y="503" width="1" height="7" fill="#f4f400"/>
<rect x="34.9" y="515" width="3.1" height="6" fill="#808080"/>
<rect x="33" y="525" width="5" height="7" fill="#808080"/>
<rect x="33.9" y="536" width="4.1" height="6" fill="#808080"/>
<rect x="38" y="544.8" width="1" height="7.3" fill="#f4f400"/>
<rect x="38" y="555" width="5.1" height="7" fill="#fdd41f"/>
<rect x="38" y="564" width="7" height="7" fill="#ffcf1c"/>
<rect x="38" y="573" width="6" height="7" fill="#ffcf1c"/>
<rect x="38" y="582" width="4" height="6" fill="#f6e21a"/>
<rect x="36.9" y="598" width="1.1" height="7" fill="#808080"/>
<rect x="36" y="606" width="2" height="6" fill="#808080"/>
<rect x="36" y="613.2" width="2" height="6.8" fill="#808080"/>
<rect x="36" y="621.1" width="2" height="5.9" fill="#808080"/>
<rect x="33.9" y="628" width="4.1" height="19.9" fill="#808080"/>
<path d="M38.5 665.5 v5 M69.5 665.5 v5 M100.5 665.5 v5" stroke="#000" stroke-width="1.05"/>
<text x="39.3" y="682.2" font-size="10.2" text-anchor="middle" textLength="6.4" lengthAdjust="spacingAndGlyphs">0</text>
<text x="68.8" y="682.2" font-size="10.2" text-anchor="middle" textLength="14.6" lengthAdjust="spacingAndGlyphs">−1</text>
<text x="99.8" y="682.2" font-size="10.2" text-anchor="middle" textLength="14.6" lengthAdjust="spacingAndGlyphs">−2</text>
<text x="70" y="703" font-size="13.4" text-anchor="middle" textLength="93.5" lengthAdjust="spacingAndGlyphs">Omega (Pa/s)</text>
<rect x="42.4" y="63.4" width="127.9" height="97" rx="2.6" fill="#fff" fill-opacity="0.8" stroke="#cfcfcf" stroke-width="1"/>
<path d="M46.8 72.4 H70" stroke="#3f983f" stroke-width="1.04" stroke-dasharray="1.04 1.71"/>
<text x="78.4" y="76.3" font-size="11" textLength="79.4" lengthAdjust="spacingAndGlyphs">Sat. Mix. Ratio</text>
<path d="M46.8 87.4 H70" stroke="#e09c9c" stroke-width="0.95"/>
<text x="78.4" y="91.3" font-size="11" textLength="70.6" lengthAdjust="spacingAndGlyphs">Dry Adiabats</text>
<path d="M46.8 103.2 H70" stroke="#a4a4e2" stroke-width="0.95"/>
<text x="78.4" y="107.1" font-size="11" textLength="85.7" lengthAdjust="spacingAndGlyphs">Pseudoadiabats</text>
<path d="M46.8 119.3 H70" stroke="#0000ff" stroke-width="1.3"/>
<text x="78.4" y="123.2" font-size="11" textLength="44.1" lengthAdjust="spacingAndGlyphs">Wetbulb</text>
<path d="M46.8 134.4 H70" stroke="#009500" stroke-width="3" stroke-linecap="square"/>
<text x="78.4" y="138.3" font-size="11" textLength="51.2" lengthAdjust="spacingAndGlyphs">Dewpoint</text>
<path d="M46.8 150.3 H70" stroke="#ff0000" stroke-width="3" stroke-linecap="square"/>
<text x="78.4" y="154.2" font-size="11" textLength="69.8" lengthAdjust="spacingAndGlyphs">Temperature</text>
<g stroke="#000" stroke-width="1.05" fill="none">
<path d="M826.5 44.5 V665.5 M826.5 49.5 h5 M826.5 155.5 h5 M826.5 230.5 h5 M826.5 289.5 h5 M826.5 336.5 h5 M826.5 377.5 h5 M826.5 412.5 h5 M826.5 443.5 h5 M826.5 470.5 h5 M826.5 495.5 h5 M826.5 518.5 h5 M826.5 539.5 h5 M826.5 558.5 h5 M826.5 576.5 h5 M826.5 593.5 h5 M826.5 609.5 h5 M826.5 624.5 h5 M826.5 638.5 h5 M826.5 652.5 h5 M826.5 665.5 h5"/>
</g>
<path d="M859.86 49.9 L834.94 47.9 M834.94 47.9 L832.63 37.68 M838.06 48.15 L835.74 37.93 M841.17 48.4 L840.01 43.29" stroke="#000" stroke-width="1.1" fill="none" stroke-linecap="butt"/>
<path d="M859.43 110.76 L835.37 103.95 M835.37 103.95 L835.09 93.48 M838.38 104.81 L838.1 94.33" stroke="#000" stroke-width="1.1" fill="none" stroke-linecap="butt"/>
<path d="M857.94 161.84 L836.86 148.41 M836.86 148.41 L839.6 138.29 M839.49 150.08 L842.23 139.97 M842.13 151.76 L844.87 141.65" stroke="#000" stroke-width="1.1" fill="none" stroke-linecap="butt"/>
<path d="M857.36 203.06 L837.44 187.95 M837.44 187.95 L841 178.09 M839.93 189.84 L843.49 179.98 M842.42 191.73 L845.98 181.87 M844.91 193.62 L846.69 188.69" stroke="#000" stroke-width="1.1" fill="none" stroke-linecap="butt"/>
<path d="M856.33 239.23 L838.47 221.74 M838.47 221.74 L843.23 212.41 M840.7 223.93 L845.47 214.6 M842.93 226.11 L847.7 216.78 M845.17 228.3 L849.93 218.97" stroke="#000" stroke-width="1.1" fill="none" stroke-linecap="butt"/>
<path d="M855.45 270.9 L839.35 251.78 M839.35 251.78 L844.98 242.95 M841.36 254.17 L847 245.34 M843.37 256.56 L849.01 247.73 M845.39 258.95 L851.02 250.12" stroke="#000" stroke-width="1.1" fill="none" stroke-linecap="butt"/>
<path d="M854.59 299.17 L840.21 278.72 M840.21 278.72 L846.6 270.41 M842.01 281.27 L848.39 272.97 M843.81 283.83 L850.19 275.52 M845.6 286.39 L851.99 278.08 M847.4 288.94 L850.59 284.79" stroke="#000" stroke-width="1.1" fill="none" stroke-linecap="butt"/>
<path d="M853.57 324.78 L841.23 303.04 M845.86 311.2 L849.43 307.37" stroke="#000" stroke-width="1.1" fill="none" stroke-linecap="butt"/><path d="M841.23 303.04 L851.46 300.82 L844.31 308.48 Z" fill="#000" stroke="#000" stroke-width="1" stroke-linejoin="miter"/>
<path d="M853.33 347.71 L841.47 325.7 M845.92 333.96 L849.58 330.21" stroke="#000" stroke-width="1.1" fill="none" stroke-linecap="butt"/><path d="M841.47 325.7 L851.76 323.71 L844.44 331.21 Z" fill="#000" stroke="#000" stroke-width="1" stroke-linejoin="miter"/>
<path d="M853.13 368.79 L841.67 346.57 M845.97 354.9 L853.42 347.54" stroke="#000" stroke-width="1.1" fill="none" stroke-linecap="butt"/><path d="M841.67 346.57 L851.99 344.76 L844.53 352.12 Z" fill="#000" stroke="#000" stroke-width="1" stroke-linejoin="miter"/>
<path d="M853.63 387.93 L841.17 366.26 M845.84 374.38 L849.4 370.54" stroke="#000" stroke-width="1.1" fill="none" stroke-linecap="butt"/><path d="M841.17 366.26 L851.4 363.98 L844.28 371.67 Z" fill="#000" stroke="#000" stroke-width="1" stroke-linejoin="miter"/>
<path d="M854.57 405.41 L840.23 384.93" stroke="#000" stroke-width="1.1" fill="none" stroke-linecap="butt"/><path d="M840.23 384.93 L850.21 381.75 L843.82 390.05 Z" fill="#000" stroke="#000" stroke-width="1" stroke-linejoin="miter"/>
<path d="M855.01 421.99 L839.79 402.16 M839.79 402.16 L845.82 393.59 M841.69 404.64 L847.72 396.07 M843.6 407.12 L849.63 398.55 M845.5 409.59 L851.53 401.03 M847.4 412.07 L850.42 407.79" stroke="#000" stroke-width="1.1" fill="none" stroke-linecap="butt"/>
<path d="M855.23 452.67 L839.57 433.19 M839.57 433.19 L845.4 424.49 M841.53 435.62 L847.36 426.92 M843.48 438.06 L849.32 429.36 M845.44 440.49 L851.28 431.79" stroke="#000" stroke-width="1.1" fill="none" stroke-linecap="butt"/>
<path d="M855.58 479.98 L839.22 461.08 M839.22 461.08 L844.73 452.17 M841.26 463.45 L846.77 454.54 M843.31 465.81 L848.82 456.9 M845.35 468.17 L848.11 463.71" stroke="#000" stroke-width="1.1" fill="none" stroke-linecap="butt"/>
<path d="M856.41 504.17 L838.39 486.83 M838.39 486.83 L843.08 477.46 M840.64 489 L845.33 479.63 M842.9 491.17 L847.58 481.79" stroke="#000" stroke-width="1.1" fill="none" stroke-linecap="butt"/>
<path d="M857.53 525.62 L837.27 510.97 M837.27 510.97 L840.61 501.03 M839.81 512.8 L843.14 502.86 M842.34 514.63 L844 509.66" stroke="#000" stroke-width="1.1" fill="none" stroke-linecap="butt"/>
<path d="M857.99 545.91 L836.81 532.62 M836.81 532.62 L839.48 522.49 M839.46 534.28 L842.12 524.15 M842.11 535.94 L843.44 530.88" stroke="#000" stroke-width="1.1" fill="none" stroke-linecap="butt"/>
<path d="M858.07 565.19 L836.73 552.17 M836.73 552.17 L839.27 542 M839.4 553.79 L841.94 543.63 M842.07 555.42 L843.34 550.34" stroke="#000" stroke-width="1.1" fill="none" stroke-linecap="butt"/>
<path d="M856.82 584.97 L837.98 568.54 M837.98 568.54 L842.2 558.95 M840.34 570.59 L844.55 561 M842.69 572.64 L844.8 567.85" stroke="#000" stroke-width="1.1" fill="none" stroke-linecap="butt"/>
<path d="M852.52 605.06 L842.28 582.26 M842.28 582.26 L850.12 575.31 M843.56 585.11 L851.4 578.16" stroke="#000" stroke-width="1.1" fill="none" stroke-linecap="butt"/>
<path d="M850.17 621.73 L844.63 597.35 M844.63 597.35 L853.69 592.09 M845.32 600.4 L854.38 595.14" stroke="#000" stroke-width="1.1" fill="none" stroke-linecap="butt"/>
<path d="M853.57 642.56 L841.23 620.83 M841.23 620.83 L848.38 613.17 M842.77 623.54 L846.34 619.71" stroke="#000" stroke-width="1.1" fill="none" stroke-linecap="butt"/>
<path d="M859.5 650.24 L835.3 643.94 M839.84 645.12 L839.59 639.89" stroke="#000" stroke-width="1.1" fill="none" stroke-linecap="butt"/>
<g clip-path="url(#ch)" fill="none">
<ellipse cx="949.5" cy="78.5" rx="33.88" ry="28.9" stroke="#a6a6a6" stroke-width="0.75" stroke-dasharray="0.75 1.55"/>
<ellipse cx="949.5" cy="78.5" rx="67.76" ry="57.8" stroke="#a6a6a6" stroke-width="0.75" stroke-dasharray="0.75 1.55"/>
<ellipse cx="949.5" cy="78.5" rx="101.64" ry="86.7" stroke="#a6a6a6" stroke-width="0.75" stroke-dasharray="0.75 1.55"/>
<ellipse cx="949.5" cy="78.5" rx="135.52" ry="115.6" stroke="#a6a6a6" stroke-width="0.75" stroke-dasharray="0.75 1.55"/>
<ellipse cx="949.5" cy="78.5" rx="169.4" ry="144.5" stroke="#a6a6a6" stroke-width="0.75" stroke-dasharray="0.75 1.55"/>
<ellipse cx="949.5" cy="78.5" rx="203.28" ry="173.4" stroke="#a6a6a6" stroke-width="0.75" stroke-dasharray="0.75 1.55"/>
<ellipse cx="949.5" cy="78.5" rx="237.16" ry="202.3" stroke="#a6a6a6" stroke-width="0.75" stroke-dasharray="0.75 1.55"/>
<ellipse cx="949.5" cy="78.5" rx="271.04" ry="231.2" stroke="#a6a6a6" stroke-width="0.75" stroke-dasharray="0.75 1.55"/>
<path d="M949.5 49.5 V237.5 M876.5 78.5 H1096.5" stroke="#000" stroke-width="0.8"/>
</g>
<text x="914.4" y="95.5" font-size="10.5" fill="#808080" text-anchor="middle" textLength="12.6" lengthAdjust="spacingAndGlyphs">10</text>
<text x="982.8" y="95.5" font-size="10.5" fill="#808080" text-anchor="middle" textLength="12.6" lengthAdjust="spacingAndGlyphs">10</text>
<text x="1016.6" y="95.5" font-size="10.5" fill="#808080" text-anchor="middle" textLength="12.6" lengthAdjust="spacingAndGlyphs">20</text>
<text x="1050.6" y="95.5" font-size="10.5" fill="#808080" text-anchor="middle" textLength="12.6" lengthAdjust="spacingAndGlyphs">30</text>
<text x="1084.4" y="95.5" font-size="10.5" fill="#808080" text-anchor="middle" textLength="12.6" lengthAdjust="spacingAndGlyphs">40</text>
<g clip-path="url(#ch)" fill="none" stroke-width="1.9" stroke-linejoin="round" stroke-linecap="butt">
<path d="M971.9 82.8 L991.3 94.1 L996.7 101.6 L988.1 112.8 L981 114.6 L975.3 115.5 L970.5 117 L967.8 118.7 L965.5 121 L964.1 123.5 L962.6 128 L962.2 132.5 L963 134.2 L966.2 134.7 L991.3 124.5 L996 123.6 L1002 123.2 L1009.5 122.4 L1017 119.7 L1019.3 118 L1020 115.5" stroke="#ff0000"/>
<path d="M1020 115.5 L1024.5 125.6 L1027.2 132 L1028.2 140.6 L1027.7 152.1 L1027.8 164.4 L1029.5 167" stroke="#008c00"/>
<path d="M1032 169.5 L1034.4 172.7 L1038.1 179.4 L1041.3 187.4 L1042.6 196 L1042.2 212 L1040.3 220.6 L1037.6 227 L1035.6 226.6 L1034.9 225.4 L1034.9 222.7 L1036.2 216.3 L1037 210" stroke="#b000b4"/>
<path d="M1037 210 L1037.8 204 L1039.2 187.4 L1041.3 171.4 L1043.5 158.6" stroke="#0a0aff"/>
</g>
<rect x="959.1" y="123.6" width="6.8" height="10" fill="#fff"/>
<text x="962.5" y="132.9" font-size="12.2" text-anchor="middle" textLength="6.6" lengthAdjust="spacingAndGlyphs">1</text>
<rect x="1002.4" y="117.2" width="6.8" height="10" fill="#fff"/>
<text x="1005.8" y="126.5" font-size="12.2" text-anchor="middle" textLength="6.6" lengthAdjust="spacingAndGlyphs">2</text>
<rect x="1013.1" y="106.2" width="6.8" height="10" fill="#fff"/>
<text x="1016.5" y="115.5" font-size="12.2" text-anchor="middle" textLength="6.6" lengthAdjust="spacingAndGlyphs">3</text>
<rect x="1028.4" y="162.8" width="6.8" height="10" fill="#fff"/>
<text x="1031.8" y="172.1" font-size="12.2" text-anchor="middle" textLength="6.6" lengthAdjust="spacingAndGlyphs">6</text>
<rect x="1033.7" y="205.4" width="6.8" height="10" fill="#fff"/>
<text x="1037.1" y="214.7" font-size="12.2" text-anchor="middle" textLength="6.6" lengthAdjust="spacingAndGlyphs">9</text>
<circle cx="956.6" cy="148" r="8.6" fill="none" stroke="#000" stroke-width="1.4"/>
<text x="956.6" y="151.6" font-size="10.2" text-anchor="middle" textLength="10" lengthAdjust="spacingAndGlyphs">RM</text>
<circle cx="1041.4" cy="104.4" r="8.6" fill="none" stroke="#000" stroke-width="1.4"/>
<text x="1041.4" y="108" font-size="10.2" text-anchor="middle" textLength="10" lengthAdjust="spacingAndGlyphs">LM</text>
<rect x="876.5" y="49.5" width="220" height="188" fill="none" stroke="#000" stroke-width="1.05"/>
<text x="985.6" y="250.8" font-size="11.2" text-anchor="middle" textLength="205" lengthAdjust="spacingAndGlyphs">Hodograph (wind in kt, height in km)</text>
<text x="987" y="35.9" font-size="16" font-weight="bold" fill="#808080" text-anchor="middle" textLength="192.6" lengthAdjust="spacingAndGlyphs">TROPICALTIDBITS.COM</text>
<g font-family="Liberation Mono, monospace" font-size="13.93">
<text x="876.5" y="285.8" fill="#000" textLength="83.6" lengthAdjust="spacing">SRH 0-1km:</text>
<text x="1018.62" y="285.8" fill="#000" textLength="16.72" lengthAdjust="spacing">40</text>
<text x="876.5" y="302.9" fill="#000" textLength="83.6" lengthAdjust="spacing">SRH 0-3km:</text>
<text x="1018.62" y="302.9" fill="#000" textLength="16.72" lengthAdjust="spacing">45</text>
<text x="876.5" y="321.8" fill="#000" textLength="58.52" lengthAdjust="spacing">SBCAPE:</text>
<text x="1026.98" y="321.8" fill="#000" textLength="8.36" lengthAdjust="spacing">0</text>
<text x="1043.7" y="321.8" fill="#000" textLength="33.44" lengthAdjust="spacing">J/kg</text>
<text x="876.5" y="339.2" fill="#000" textLength="58.52" lengthAdjust="spacing">MLCAPE:</text>
<text x="1026.98" y="339.2" fill="#000" textLength="8.36" lengthAdjust="spacing">0</text>
<text x="1043.7" y="339.2" fill="#000" textLength="33.44" lengthAdjust="spacing">J/kg</text>
<text x="876.5" y="356.7" fill="#000" textLength="58.52" lengthAdjust="spacing">MUCAPE:</text>
<text x="1026.98" y="356.7" fill="#000" textLength="8.36" lengthAdjust="spacing">0</text>
<text x="1043.7" y="356.7" fill="#000" textLength="33.44" lengthAdjust="spacing">J/kg</text>
<text x="876.5" y="374.1" fill="#000" textLength="50.16" lengthAdjust="spacing">SBCIN:</text>
<text x="1026.98" y="374.1" fill="#000" textLength="8.36" lengthAdjust="spacing">0</text>
<text x="1043.7" y="374.1" fill="#000" textLength="33.44" lengthAdjust="spacing">J/kg</text>
<text x="876.5" y="391.6" fill="#000" textLength="50.16" lengthAdjust="spacing">MLCIN:</text>
<text x="1026.98" y="391.6" fill="#000" textLength="8.36" lengthAdjust="spacing">0</text>
<text x="1043.7" y="391.6" fill="#000" textLength="33.44" lengthAdjust="spacing">J/kg</text>
<text x="876.5" y="409" fill="#000" textLength="50.16" lengthAdjust="spacing">DCAPE:</text>
<text x="1026.98" y="409" fill="#000" textLength="8.36" lengthAdjust="spacing">0</text>
<text x="1043.7" y="409" fill="#000" textLength="33.44" lengthAdjust="spacing">J/kg</text>
<text x="876.5" y="426.5" fill="#d2693c" textLength="117.04" lengthAdjust="spacing">SHR 200-850mb:</text>
<text x="1018.62" y="426.5" fill="#d2693c" textLength="16.72" lengthAdjust="spacing">26</text>
<text x="1043.7" y="426.5" fill="#d2693c" textLength="16.72" lengthAdjust="spacing">kt</text>
<text x="876.5" y="443.9" fill="#8b5a12" textLength="108.68" lengthAdjust="spacing">RH 300-850mb:</text>
<text x="1018.62" y="443.9" fill="#8b5a12" textLength="16.72" lengthAdjust="spacing">25</text>
<text x="1043.7" y="443.9" fill="#8b5a12" textLength="8.36" lengthAdjust="spacing">%</text>
<text x="876.5" y="461.4" fill="#000" textLength="41.8" lengthAdjust="spacing">PWAT:</text>
<text x="1001.9" y="461.4" fill="#000" textLength="33.44" lengthAdjust="spacing">0.08</text>
<text x="1043.7" y="461.4" fill="#000" textLength="16.72" lengthAdjust="spacing">in</text>
</g>
<text x="1044.2" y="285.8" font-size="14.4" font-style="italic" textLength="13.4" lengthAdjust="spacingAndGlyphs">m</text>
<text x="1058.7" y="279.4" font-size="9.6" textLength="5.7" lengthAdjust="spacingAndGlyphs">2</text>
<text x="1064.4" y="285.8" font-size="14.4" font-style="italic" textLength="7.6" lengthAdjust="spacingAndGlyphs">s</text>
<text x="1072.8" y="279.4" font-size="9.6" textLength="13.8" lengthAdjust="spacingAndGlyphs">−2</text>
<text x="1044.2" y="302.9" font-size="14.4" font-style="italic" textLength="13.4" lengthAdjust="spacingAndGlyphs">m</text>
<text x="1058.7" y="296.5" font-size="9.6" textLength="5.7" lengthAdjust="spacingAndGlyphs">2</text>
<text x="1064.4" y="302.9" font-size="14.4" font-style="italic" textLength="7.6" lengthAdjust="spacingAndGlyphs">s</text>
<text x="1072.8" y="296.5" font-size="9.6" textLength="13.8" lengthAdjust="spacingAndGlyphs">−2</text>
<g clip-path="url(#ct)"><path d="M1090 497 C1088.6 497.48 1086.52 498.25 1081.6 499.9 C1076.68 501.55 1067.55 504.38 1060.5 506.9 C1053.45 509.42 1045.65 512.53 1039.3 515 C1032.95 517.47 1027.68 519.33 1022.4 521.7 C1017.12 524.07 1011.83 526.55 1007.6 529.2 C1003.37 531.85 1000.18 534.62 997 537.6 C993.82 540.58 990.8 543.75 988.5 547.1 C986.2 550.45 984.78 554.17 983.2 557.7 C981.62 561.23 980.58 564.77 979 568.3 C977.42 571.83 975.82 575.37 973.7 578.9 C971.58 582.43 968.58 586.32 966.3 589.5 C964.02 592.68 961.77 595 960 598 C958.23 601 956.58 604.15 955.7 607.5 C954.82 610.85 954.85 614.22 954.7 618.1 C954.55 621.98 954.92 626.92 954.8 630.8 C954.68 634.68 954.45 638.52 954 641.4 C953.55 644.28 952.42 646.98 952.1 648.1 L940.9 649.8" fill="none" stroke="#3497b6" stroke-width="2.6" stroke-linejoin="round"/></g>
<rect x="892.5" y="500.5" width="204" height="165" fill="none" stroke="#000" stroke-width="1.05"/>
<path d="M892.5 522.5 h5 M892.5 566.5 h5 M892.5 610.5 h5 M892.5 654.5 h5 M935.5 665.5 v-5 M978.5 665.5 v-5 M1021.5 665.5 v-5 M1064.5 665.5 v-5" stroke="#000" stroke-width="1.05"/>
<text x="902.2" y="526.3" font-size="10.4" textLength="19.4" lengthAdjust="spacingAndGlyphs">400</text>
<text x="902.2" y="570.3" font-size="10.4" textLength="19.4" lengthAdjust="spacingAndGlyphs">600</text>
<text x="902.2" y="614.3" font-size="10.4" textLength="19.4" lengthAdjust="spacingAndGlyphs">800</text>
<text x="935.5" y="656.2" font-size="10.4" text-anchor="middle" textLength="19.4" lengthAdjust="spacingAndGlyphs">260</text>
<text x="978.5" y="656.2" font-size="10.4" text-anchor="middle" textLength="19.4" lengthAdjust="spacingAndGlyphs">280</text>
<text x="1021.5" y="656.2" font-size="10.4" text-anchor="middle" textLength="19.4" lengthAdjust="spacingAndGlyphs">300</text>
<text x="1064.5" y="656.2" font-size="10.4" text-anchor="middle" textLength="19.4" lengthAdjust="spacingAndGlyphs">320</text>
<text x="993.6" y="678" font-size="11.2" text-anchor="middle" textLength="176" lengthAdjust="spacingAndGlyphs">Equivalent Pot. Temperature (K)</text>
<text transform="translate(883.8 582.5) rotate(-90)" font-size="11.2" text-anchor="middle" textLength="80" lengthAdjust="spacingAndGlyphs">Pressure (hPa)</text>
<g shape-rendering="crispEdges"><path d="M0 0H1133V1H1V747H0Z" fill="#a0a0a0"/><path d="M1 1H1132V2H2V746H1Z" fill="#696969"/><path d="M1132 1H1133V747H1V746H1132Z" fill="#e3e3e3"/></g>
</g>
</svg>
</body></html>
